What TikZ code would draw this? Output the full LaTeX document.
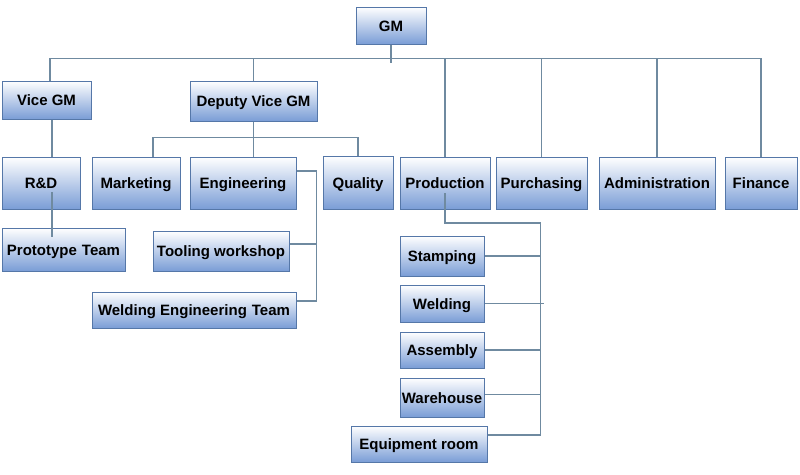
\documentclass[tikz,border=0pt]{standalone}
\usepackage{fontspec}
\setmainfont{Liberation Sans}
\definecolor{boxblue}{HTML}{7A9DD6}
\definecolor{boxmid}{HTML}{CCDAF0}
\definecolor{boxedge}{HTML}{5577A8}
\definecolor{wire}{HTML}{6F8AA0}
\begin{document}
\begin{tikzpicture}[x=1pt,y=-1pt,
    box/.style={draw=boxedge,line width=1pt,top color=white,middle color=boxmid,bottom color=boxblue,
      inner sep=0pt,text height=13pt,text depth=2pt,font=\fontsize{15}{17}\selectfont\bfseries},
    wire/.style={draw=wire,line width=1.1pt}]
      \useasboundingbox (0,0) rectangle (800,474);
      \node[box,minimum width=70pt,minimum height=37pt] (gm) at (391,25.5) {GM};
      \node[box,minimum width=89pt,minimum height=38pt] (vgm) at (46.5,100) {Vice GM};
      \node[box,minimum width=127pt,minimum height=40pt] (dvgm) at (253.5,101) {Deputy Vice GM};
      \node[box,minimum width=78pt,minimum height=52pt] (rd) at (41,183) {R\&D};
      \node[box,minimum width=88pt,minimum height=52pt] (mkt) at (136,183) {Marketing};
      \node[box,minimum width=106pt,minimum height=52pt] (eng) at (243,183) {Engineering};
      \node[box,minimum width=70pt,minimum height=53pt] (qual) at (358,182.5) {Quality};
      \node[box,minimum width=90pt,minimum height=52pt] (prod) at (445,183) {Production};
      \node[box,minimum width=91pt,minimum height=52pt] (purch) at (541.5,183) {Purchasing};
      \node[box,minimum width=116pt,minimum height=52pt] (admin) at (657,183) {Administration};
      \node[box,minimum width=72pt,minimum height=52pt] (fin) at (761,183) {Finance};
      \node[box,minimum width=123pt,minimum height=43pt] (proto) at (63.5,249.5) {Prototype\,\,Team};
      \node[box,minimum width=136pt,minimum height=40pt] (tool) at (221,251) {Tooling workshop};
      \node[box,minimum width=204pt,minimum height=36pt] (weng) at (194,310) {Welding Engineering\,\,Team};
      \node[box,minimum width=84pt,minimum height=40pt] (stamp) at (442,256) {Stamping};
      \node[box,minimum width=84pt,minimum height=37pt] (weld) at (442,303.5) {Welding};
      \node[box,minimum width=84pt,minimum height=36pt] (asm) at (442,350) {Assembly};
      \node[box,minimum width=84pt,minimum height=39pt] (ware) at (442,397.5) {Warehouse};
      \node[box,minimum width=136pt,minimum height=36pt] (equip) at (419,444) {Equipment room};
      \begin{scope}[wire]
        \draw (gm.south) -- ++(0,18);
        \draw ([xshift=3.5pt]vgm.north) -- ++(0,-22) -| (fin.north);
        \draw (dvgm.north) -- ++(0,-22);
        \draw (prod.north) -- ++(0,-98);
        \draw (purch.north) -- ++(0,-98);
        \draw (admin.north) -- ++(0,-98);
        \draw ([xshift=11pt]rd.north) -- ([xshift=11pt]rd.north |- vgm.south);
        \draw ([xshift=11pt,yshift=-9pt]rd.center) -- ([xshift=11pt,yshift=-9pt]rd.center |- proto.north);
        \draw (dvgm.south) -- (dvgm.south |- eng.north);
        \draw ([xshift=17pt]mkt.north) -- ++(0,-19) -| (qual.north);
        \draw ([yshift=12pt]eng.east) -- ++(20,0) |- ([yshift=9pt]weng.east);
        \draw ([yshift=7pt]tool.east) -- ++(27,0);
        \draw ([yshift=-10pt]prod.center) -- ++(0,30) -| ([xshift=53pt,yshift=9pt]equip.east) -- ([yshift=9pt]equip.east);
        \draw (stamp.east) -- ++(56,0);
        \draw (weld.east) -- ++(59,0);
        \draw (asm.east) -- ++(56,0);
        \draw ([yshift=3pt]ware.east) -- ++(56,0);
      \end{scope}
    \end{tikzpicture}
\end{document}
